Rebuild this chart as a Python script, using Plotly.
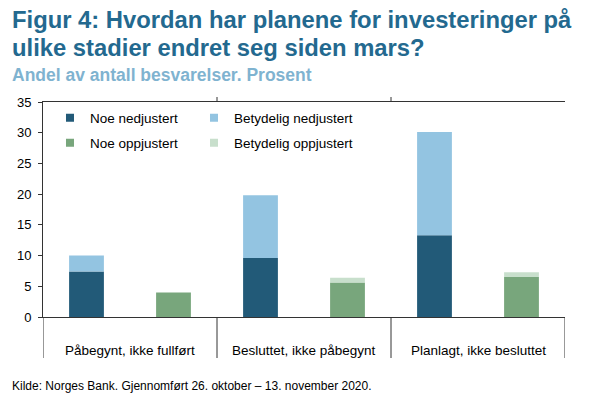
import plotly.graph_objects as go

categories = ["Påbegynt, ikke fullført", "Besluttet, ikke påbegynt", "Planlagt, ikke besluttet"]
noe_ned = [7.4, 9.6, 13.3]
betydelig_ned = [2.6, 10.2, 16.8]
noe_opp = [4.0, 5.6, 6.5]
betydelig_opp = [0.0, 0.8, 0.8]
y_ticks = [0, 5, 10, 15, 20, 25, 30, 35]

C_DARK = "#225a78"
C_LIGHT = "#93c4e1"
C_GREEN = "#78a67c"
C_LGREEN = "#c8dfcc"
LINE = "#333333"
FONT = "Liberation Sans, Arial, sans-serif"

n = len(categories)
x_ned = [2 * i + 0.5 for i in range(n)]
x_opp = [2 * i + 1.5 for i in range(n)]
x_cat = [2 * i + 1 for i in range(n)]
W = 0.4

fig = go.Figure()
series = [
    (x_ned, noe_ned, None, "Noe nedjustert", C_DARK, "legend"),
    (x_ned, betydelig_ned, noe_ned, "Betydelig nedjustert", C_LIGHT, "legend2"),
    (x_opp, noe_opp, None, "Noe oppjustert", C_GREEN, "legend3"),
    (x_opp, betydelig_opp, noe_opp, "Betydelig oppjustert", C_LGREEN, "legend4"),
]
for xs, ys, base, name, col, lg in series:
    fig.add_bar(x=xs, y=ys, base=base, width=W, name=name, marker=dict(color=col, line=dict(width=0)),
                showlegend=False, legendgroup=name)
for xs, ys, base, name, col, lg in series:
    fig.add_scatter(x=[None], y=[None], mode="markers", name=name, legend=lg, legendgroup=name,
                    marker=dict(symbol="square", size=8, color=col))

shapes = []
for i in range(n + 1):
    xv = 2 * i
    shapes.append(dict(type="line", xref="x", yref="paper", x0=xv, x1=xv, y0=0, y1=-41 / 215,
                       line=dict(color=LINE, width=1)))
for i in range(1, n):
    xv = 2 * i
    shapes.append(dict(type="line", xref="x", yref="paper", x0=xv, x1=xv, y0=1, y1=1 + 5 / 215,
                       line=dict(color=LINE, width=1)))

annotations = []
for xc, c in zip(x_cat, categories):
    annotations.append(dict(x=xc, y=0, xref="x", yref="y", text=c, showarrow=False,
                            yshift=-33, font=dict(family=FONT, size=13.5, color="#000000")))
TITLE_C = "#23698f"
annotations.append(dict(x=0, y=1.382, xref="paper", yref="paper", xanchor="left", yanchor="middle", xshift=-33,
                        text="<b>Figur 4: Hvordan har planene for investeringer på</b>", showarrow=False,
                        font=dict(family=FONT, size=23.8, color=TITLE_C)))
annotations.append(dict(x=0, y=1.254, xref="paper", yref="paper", xanchor="left", yanchor="middle", xshift=-33,
                        text="<b>ulike stadier endret seg siden mars?</b>", showarrow=False,
                        font=dict(family=FONT, size=23.8, color=TITLE_C)))
annotations.append(dict(x=0, y=1.1256, xref="paper", yref="paper", xanchor="left", yanchor="middle", xshift=-33,
                        text="<b>Andel av antall besvarelser. Prosent</b>", showarrow=False,
                        font=dict(family=FONT, size=17.5, color="#7fb3d0")))
annotations.append(dict(x=0, y=-0.321, xref="paper", yref="paper", xanchor="left", yanchor="middle", xshift=-33,
                        text="Kilde: Norges Bank. Gjennomført 26. oktober – 13. november 2020.",
                        showarrow=False, font=dict(family=FONT, size=12, color="#000000")))

legend_common = dict(orientation="h", xanchor="left", yanchor="middle", itemwidth=30,
                     bgcolor="rgba(0,0,0,0)",
                     font=dict(family=FONT, size=13.5, color="#000000"), traceorder="normal",
                     itemclick=False, itemdoubleclick=False)

LX1 = 0.0134
LX2 = LX1 + 144 / 522
LY1 = 0.9256
LY2 = 0.8093

fig.update_layout(
    width=601, height=399,
    margin=dict(l=43, r=36, t=102, b=82, autoexpand=False),
    paper_bgcolor="white", plot_bgcolor="white",
    font=dict(family=FONT, size=13, color="#000000"),
    barmode="overlay",
    showlegend=True,
    hovermode=False,
    legend=dict(x=LX1, y=LY1, **legend_common),
    legend2=dict(x=LX2, y=LY1, **legend_common),
    legend3=dict(x=LX1, y=LY2, **legend_common),
    legend4=dict(x=LX2, y=LY2, **legend_common),
    xaxis=dict(range=[0, 2 * n], showticklabels=False, ticks="", showgrid=False, zeroline=False,
               showline=True, linecolor=LINE, linewidth=1, mirror=True, fixedrange=True, automargin=False),
    yaxis=dict(range=[0, 35], tickvals=y_ticks, ticks="outside", ticklen=4, tickcolor=LINE,
               ticklabelstandoff=4, showgrid=False, zeroline=False, showline=True, linecolor=LINE, linewidth=1,
               tickfont=dict(family=FONT, size=13), fixedrange=True, automargin=False),
    yaxis2=dict(range=[0, 35], tickvals=y_ticks, overlaying="y", side="right", ticks="outside",
                ticklen=4, tickcolor=LINE, ticklabelstandoff=9, showgrid=False, zeroline=False, showline=True,
                linecolor="#555555", linewidth=1, tickfont=dict(family=FONT, size=13), fixedrange=True,
                automargin=False),
    shapes=shapes,
    annotations=annotations,
)
fig.write_html("out.html", config={"displayModeBar": False},
               post_script="document.body.style.margin='0';")
